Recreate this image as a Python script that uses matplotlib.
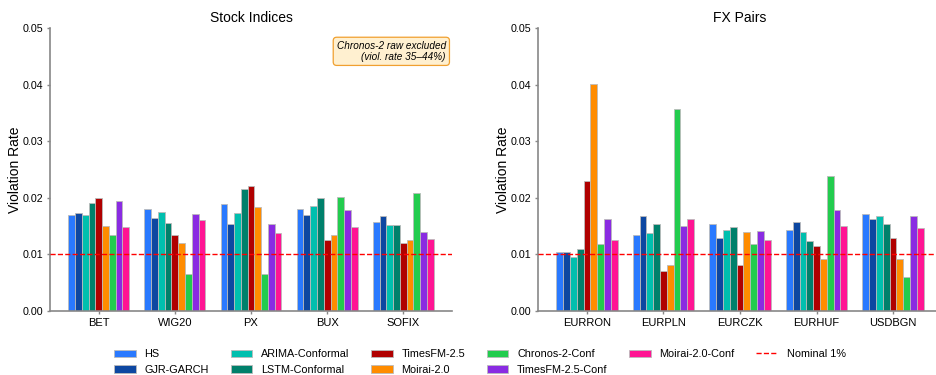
import matplotlib
matplotlib.use("Agg")
import matplotlib.pyplot as plt
from matplotlib.lines import Line2D
from matplotlib.patches import Patch
import numpy as np

plt.rcParams["font.family"] = ["Liberation Sans", "DejaVu Sans"]

methods = ["HS", "GJR-GARCH", "ARIMA-Conformal", "LSTM-Conformal", "TimesFM-2.5",
           "Moirai-2.0", "Chronos-2-Conf", "TimesFM-2.5-Conf", "Moirai-2.0-Conf"]
colors = ["#2979FF", "#0D47A1", "#00BFAE", "#00806B", "#B00000",
          "#FF8C00", "#22CC4E", "#8A2BE2", "#FF1493"]

stock_names = ["BET", "WIG20", "PX", "BUX", "SOFIX"]
fx_names = ["EURRON", "EURPLN", "EURCZK", "EURHUF", "USDBGN"]

# violation rates per method (rows) across markets (columns)
stock_hs      = [0.0170, 0.0180, 0.0189, 0.0180, 0.0157]
stock_gjr     = [0.0174, 0.0165, 0.0154, 0.0170, 0.0167]
stock_arima   = [0.0170, 0.0175, 0.0174, 0.0186, 0.0152]
stock_lstm    = [0.0190, 0.0155, 0.0215, 0.0200, 0.0152]
stock_tfm     = [0.0200, 0.0135, 0.0220, 0.0125, 0.0121]
stock_moirai  = [0.0150, 0.0120, 0.0184, 0.0135, 0.0126]
stock_chronc  = [0.0134, 0.0066, 0.0066, 0.0202, 0.0208]
stock_tfmc    = [0.0194, 0.0171, 0.0154, 0.0178, 0.0139]
stock_moiraic = [0.0148, 0.0160, 0.0137, 0.0148, 0.0127]

fx_hs      = [0.0105, 0.0134, 0.0153, 0.0143, 0.0172]
fx_gjr     = [0.0105, 0.0167, 0.0129, 0.0157, 0.0162]
fx_arima   = [0.0095, 0.0138, 0.0143, 0.0139, 0.0167]
fx_lstm    = [0.0110, 0.0153, 0.0148, 0.0124, 0.0153]
fx_tfm     = [0.0229, 0.0071, 0.0081, 0.0115, 0.0129]
fx_moirai  = [0.0401, 0.0081, 0.0139, 0.0091, 0.0091]
fx_chronc  = [0.0119, 0.0357, 0.0119, 0.0238, 0.0060]
fx_tfmc    = [0.0163, 0.0151, 0.0141, 0.0179, 0.0168]
fx_moiraic = [0.0125, 0.0163, 0.0125, 0.0151, 0.0147]

stock_data = [stock_hs, stock_gjr, stock_arima, stock_lstm, stock_tfm,
              stock_moirai, stock_chronc, stock_tfmc, stock_moiraic]
fx_data = [fx_hs, fx_gjr, fx_arima, fx_lstm, fx_tfm,
           fx_moirai, fx_chronc, fx_tfmc, fx_moiraic]

nominal = 0.01

fig = plt.figure(figsize=(9.37, 3.75), dpi=100)
ax1 = fig.add_axes([50 / 937, 64 / 375, 402 / 937, 283 / 375])
ax2 = fig.add_axes([538 / 937, 64 / 375, 404 / 937, 283 / 375])

spine_col = "#888888"
n = len(methods)
bw = 0.8 / n


def draw(ax, names, data, title):
    x = np.arange(len(names))
    for i, (vals, c) in enumerate(zip(data, colors)):
        ax.bar(x - 0.4 + bw * (i + 0.5), vals, width=bw, color=c,
               edgecolor="#BBBBBB", linewidth=0.6)
    ax.axhline(nominal, color="red", linestyle="--", linewidth=1.0, zorder=3)
    ax.set_xticks(x)
    ax.set_xticklabels(names, fontsize=8)
    ax.set_ylim(0, 0.05)
    ax.set_yticks([0, 0.01, 0.02, 0.03, 0.04, 0.05])
    ax.set_yticklabels(["0.00", "0.01", "0.02", "0.03", "0.04", "0.05"], fontsize=7.7)
    ax.set_ylabel("Violation Rate", fontsize=10, labelpad=0)
    ax.set_title(title, fontsize=10, pad=4)
    for s in ("top", "right"):
        ax.spines[s].set_visible(False)
    for s in ("left", "bottom"):
        ax.spines[s].set_color(spine_col)
        ax.spines[s].set_linewidth(1.2)
    ax.tick_params(colors=spine_col, labelcolor="black", length=2.5, width=1, pad=2.5)


draw(ax1, stock_names, stock_data, "Stock Indices")
draw(ax2, fx_names, fx_data, "FX Pairs")

ax1.text(0.985, 0.955, "Chronos-2 raw excluded\n(viol. rate 35\u201344%)",
         transform=ax1.transAxes, ha="right", va="top", fontsize=7.2,
         style="italic", linespacing=1.15,
         bbox=dict(boxstyle="round,pad=0.35", facecolor="#FFF0D0",
                   edgecolor="#F0A030", linewidth=0.9))

handles = [Patch(facecolor=c, edgecolor="#BBBBBB", linewidth=0.6) for c in colors]
labels = list(methods)
handles.append(Line2D([0], [0], color="red", linestyle="--", linewidth=1.0))
labels.append("Nominal 1%")

fig.legend(handles, labels, loc="lower center", ncol=6, frameon=False,
           fontsize=7.8, bbox_to_anchor=(480 / 937, -0.025), columnspacing=2.0,
           handlelength=2.0, handletextpad=0.8, labelspacing=0.5)

fig.savefig("out.png", dpi=100)
